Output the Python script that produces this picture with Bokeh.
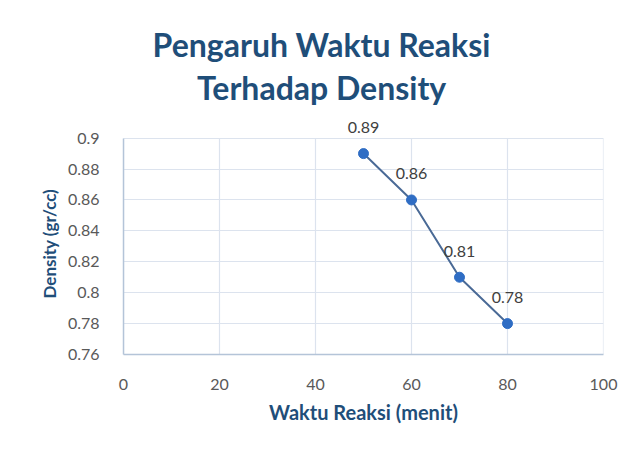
from bokeh.plotting import figure
from bokeh.models import ColumnDataSource, Label, Range1d, FixedTicker, LabelSet, Title
from bokeh.core.properties import value
from bokeh.embed import file_html
from bokeh.resources import INLINE

# Data
waktu = [50, 60, 70, 80]
density = [0.89, 0.86, 0.81, 0.78]
labels = ["0.89", "0.86", "0.81", "0.78"]
x_ticks = [0, 20, 40, 60, 80, 100]
y_ticks = [0.76, 0.78, 0.80, 0.82, 0.84, 0.86, 0.88, 0.90]
y_tick_labels = {0.76: "0.76", 0.78: "0.78", 0.8: "0.8", 0.82: "0.82",
                 0.84: "0.84", 0.86: "0.86", 0.88: "0.88", 0.9: "0.9"}
y_min, y_max = 0.76, 0.90

title_lines = ["Pengaruh  Waktu Reaksi", "Terhadap  Density"]
x_label = "Waktu Reaksi (menit)"
y_label = "Density (gr/cc)"

FONT = "Lato"
NAVY = "#1F4E79"
TICK = "#595959"

# frame extended upward (headroom for labels/title), axis bounded to data range
p = figure(width=628, height=443, output_backend="svg", toolbar_location=None,
           x_range=Range1d(0, 100), y_range=Range1d(y_min, 0.98),
           min_border_left=123, min_border_right=25,
           min_border_top=14, min_border_bottom=89)
p.background_fill_color = "white"
p.border_fill_color = "white"
p.outline_line_color = None

# vertical grid lines only across the data range
p.xgrid.visible = False
p.segment(x0=x_ticks, x1=x_ticks, y0=[y_min] * len(x_ticks), y1=[y_max] * len(x_ticks),
          line_color="#DCE3EE", line_width=1.2)

src = ColumnDataSource(dict(x=waktu, y=density, t=labels))
p.line("x", "y", source=src, line_color="#4A6A96", line_width=2)
p.scatter("x", "y", source=src, size=10, fill_color="#2F6DC4", line_color="#2F6DC4")
p.add_layout(LabelSet(x="x", y="y", text="t", source=src, y_offset=26,
                      text_align="center", text_baseline="middle",
                      text_font=value(FONT), text_font_size=value("16px"),
                      text_color="#404040"))

# Axes
p.xaxis.ticker = FixedTicker(ticks=x_ticks)
p.yaxis.ticker = FixedTicker(ticks=y_ticks)
p.yaxis.bounds = (y_min, y_max)
p.yaxis.major_label_overrides = y_tick_labels
for ax in (p.xaxis[0], p.yaxis[0]):
    ax.major_tick_line_color = None
    ax.minor_tick_line_color = None
    ax.axis_line_color = "#B4C4D8"
    ax.axis_line_width = 1.5
    ax.major_label_text_font = FONT
    ax.major_label_text_font_size = "16px"
    ax.major_label_text_color = TICK
    ax.axis_label_text_font = FONT
    ax.axis_label_text_font_size = "20px"
    ax.axis_label_text_font_style = "bold"
    ax.axis_label_text_color = NAVY
p.xaxis.major_label_standoff = 18
p.yaxis.major_label_standoff = 18
p.xaxis.axis_label = x_label
p.xaxis.axis_label_standoff = 7

# y-axis title placed alongside the bounded part of the axis
p.add_layout(Title(text=y_label, align="left", offset=56, standoff=10,
                   text_font=FONT, text_font_size="17px", text_font_style="bold",
                   text_color=NAVY), "left")

p.ygrid.ticker = FixedTicker(ticks=y_ticks)
p.ygrid.grid_line_color = "#DCE3EE"
p.ygrid.grid_line_width = 1.2

# Title (two lines), screen units relative to the frame
for t, sy in zip(title_lines, [310, 267]):
    p.add_layout(Label(x=202, y=sy, x_units="screen", y_units="screen", text=t,
                       text_align="center", text_baseline="middle",
                       text_font=FONT, text_font_size="32px", text_font_style="bold",
                       text_color=NAVY))

open("out.html", "w").write(file_html(p, INLINE))
